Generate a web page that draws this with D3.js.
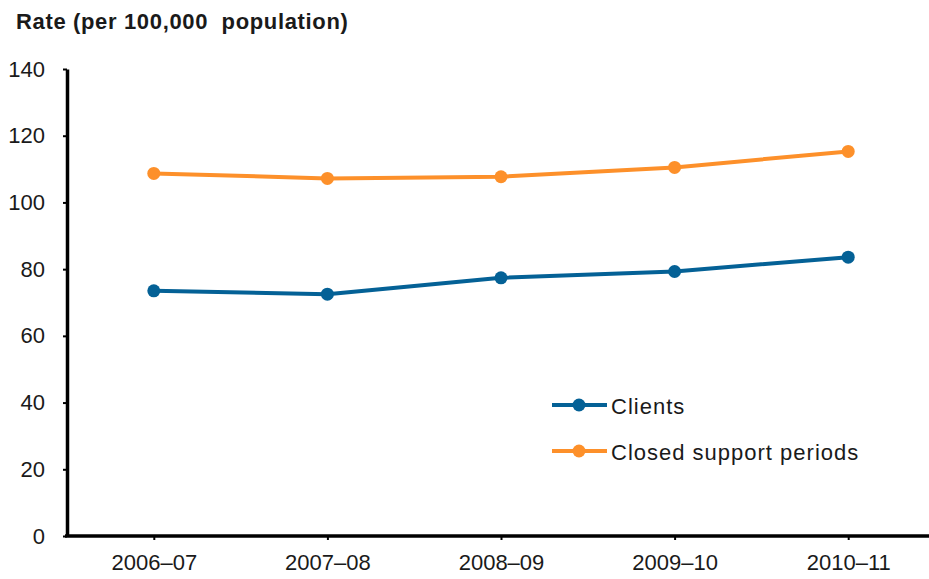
<!DOCTYPE html>
<html>
<head>
<meta charset="utf-8">
<script src="https://cdn.jsdelivr.net/npm/d3@7"></script>
<style>
  html, body { margin: 0; padding: 0; background: #fff; }
  svg text { font-family: "Liberation Sans", Arial, sans-serif; fill: #1a1a1a; }
</style>
</head>
<body>
<svg id="chart" width="929" height="579"></svg>
<script>
// Financial years on the x axis
const years = ["2006–07", "2007–08", "2008–09", "2009–10", "2010–11"];
// Rate per 100,000 population
const clients = [73.5, 72.5, 77.4, 79.3, 83.6];
const closedPeriods = [108.7, 107.2, 107.7, 110.5, 115.3];
const yTicks = [0, 20, 40, 60, 80, 100, 120, 140];

const series = [
  { name: "Clients", values: clients, color: "#046196" },
  { name: "Closed support periods", values: closedPeriods, color: "#fd902a" }
];

const svg = d3.select("#chart");
const plotLeft = 67, plotRight = 935, plotTop = 69, plotBottom = 536;
const fontFamily = "Liberation Sans, Arial, sans-serif";

const x = d3.scalePoint().domain(years).range([plotLeft, plotRight]).padding(0.5);
const y = d3.scaleLinear().domain([0, 140]).range([plotBottom, plotTop]);

// Axis title
svg.append("text")
  .attr("x", 16).attr("y", 29)
  .attr("font-size", 22).attr("font-weight", "bold")
  .attr("letter-spacing", 0.65)
  .style("white-space", "pre")
  .text("Rate (per 100,000  population)");

// Y axis
const yAxis = svg.append("g").attr("transform", `translate(${plotLeft},0)`)
  .call(d3.axisLeft(y).tickValues(yTicks).tickSize(4).tickPadding(18).tickSizeOuter(0));
yAxis.select(".domain").attr("stroke", "#000").attr("stroke-width", 3.5);
yAxis.selectAll(".tick line").attr("stroke", "#000").attr("stroke-width", 2);
yAxis.selectAll(".tick text").attr("font-size", 22).attr("fill", "#1a1a1a")
  .attr("font-family", fontFamily);

// X axis
const xAxis = svg.append("g").attr("transform", `translate(0,${plotBottom})`)
  .call(d3.axisBottom(x).tickSize(4).tickPadding(14).tickSizeOuter(0));
xAxis.select(".domain").attr("d", `M${plotLeft - 2},0H929`).attr("stroke", "#000").attr("stroke-width", 3.5);
xAxis.selectAll(".tick line").attr("stroke", "#000").attr("stroke-width", 2);
xAxis.selectAll(".tick text").attr("font-size", 22).attr("fill", "#1a1a1a")
  .attr("font-family", fontFamily);

// Lines with markers
const line = d3.line().x((d, i) => x(years[i])).y(d => y(d));
series.forEach(s => {
  svg.append("path").datum(s.values)
    .attr("d", line).attr("fill", "none")
    .attr("stroke", s.color).attr("stroke-width", 4).attr("stroke-linejoin", "round");
  svg.selectAll(null).data(s.values).enter().append("circle")
    .attr("cx", (d, i) => x(years[i])).attr("cy", d => y(d))
    .attr("r", 6.5).attr("fill", s.color);
});

// Legend
const legend = svg.append("g").attr("transform", "translate(552,405)");
series.forEach((s, i) => {
  const g = legend.append("g").attr("transform", `translate(0,${i * 46})`);
  g.append("line").attr("x1", 0).attr("x2", 55).attr("y1", 0).attr("y2", 0)
    .attr("stroke", s.color).attr("stroke-width", 4);
  g.append("circle").attr("cx", 27).attr("cy", 0).attr("r", 6.5).attr("fill", s.color);
  g.append("text").attr("x", 59).attr("y", 8.5).attr("font-size", 22)
    .attr("letter-spacing", 1.0).text(s.name);
});
</script>
</body>
</html>
